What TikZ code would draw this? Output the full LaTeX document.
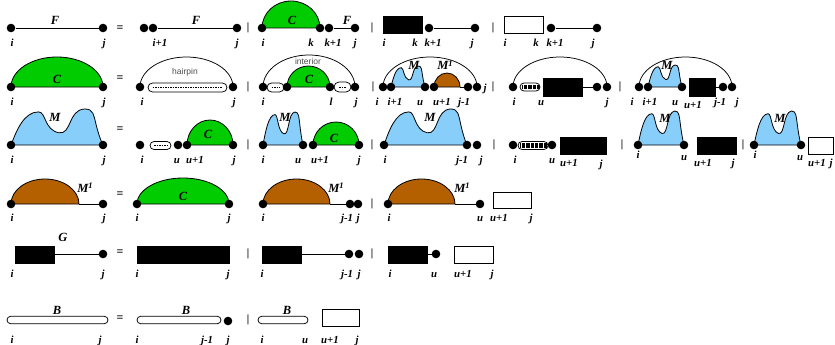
\documentclass[tikz,border=0pt]{standalone}
\usepackage{fontspec}
\setmainfont{Liberation Serif}
\newfontfamily\hsans{Liberation Sans}
\definecolor{cgreen}{RGB}{0,204,0}
\definecolor{cbrown}{RGB}{180,95,0}
\definecolor{cblue}{RGB}{135,206,250}
\tikzset{
 pdot/.style={circle,fill=black,inner sep=0pt,minimum size=8.6pt},
 lbl/.style={font=\fontsize{10.8}{10.8}\selectfont\bfseries\itshape,anchor=base,inner sep=0pt},
 nm/.style={font=\fontsize{12.5}{12.5}\selectfont\bfseries\itshape,anchor=base,inner sep=0pt},
 opsym/.style={font=\fontsize{12}{12}\selectfont\bfseries,inner sep=0pt},
 barsym/.style={font=\fontsize{11}{11}\selectfont\bfseries,inner sep=0pt},
 note/.style={font=\hsans\fontsize{8.5}{8.5}\selectfont,text=black!70,inner sep=0pt},
 outl/.style={draw=black,line width=0.8pt},
 thinl/.style={draw=black,line width=0.75pt},
}
\newcounter{xnc}
\newcommand\xLb[3]{\stepcounter{xnc}\node[lbl] (t\arabic{xnc}) at (#1,-#2) {#3};}
\newcommand\xNm[3]{\stepcounter{xnc}\node[nm] (t\arabic{xnc}) at (#1,-#2) {#3};}
\newcommand\xEq[2]{\stepcounter{xnc}\node[opsym] (t\arabic{xnc}) at (#1,-#2) {=};}
\newcommand\xBar[2]{\stepcounter{xnc}\node[barsym] (t\arabic{xnc}) at (#1,-#2) {|};}
\newcommand\xDot[3]{\node[pdot] (#1) at (#2,-#3) {};}
\newcommand\xSemi[5]{\filldraw[outl,fill=#5] (#1,-#3) arc[start angle=180,end angle=0,x radius={((#2)-(#1))/2},y radius=#4] -- cycle;}
\newcommand\xArc[4]{\draw[thinl] (#1,-#3) arc[start angle=180,end angle=0,x radius={((#2)-(#1))/2},y radius=#4];}
\newcommand\xM[4]{\begin{scope}[shift={(#1,-#3)},xscale={(#2)-(#1)},yscale=#4]
 \filldraw[outl,fill=cblue] (0,0) .. controls (0.06,0.4) and (0.14,0.92) .. (0.3,0.92)
 .. controls (0.38,0.92) and (0.36,0.42) .. (0.52,0.34)
 .. controls (0.66,0.28) and (0.62,0.98) .. (0.8,1)
 .. controls (0.9,1.01) and (0.9,0.8) .. (0.92,0.62)
 .. controls (0.94,0.4) and (0.97,0.15) .. (1,0) -- cycle;
 \end{scope}}
\newcommand\xDP[4]{\draw[thinl,fill=white,rounded corners={(#4)/2-0.01}] (#1,-#3-#4/2) rectangle (#2,-#3+#4/2);
 \draw[line width=0.5pt,dash pattern=on 1.5pt off 1pt] (#1+#4/2,-#3) -- (#2-#4/2,-#3);}
\newcommand\xHP[4]{\begin{scope}\clip[rounded corners={(#4)/2-0.01}] (#1,-#3-#4/2) rectangle (#2,-#3+#4/2);
 \fill[white] (#1,-#3-#4/2) rectangle (#2,-#3+#4/2);
 \foreach \hx in {2.5,3.8,...,40} {\draw[line width=0.4pt] (#1+\hx,-#3-#4/2+1.6) -- (#1+\hx,-#3+#4/2-1.6);}
 \end{scope}
 \draw[thinl,rounded corners={(#4)/2-0.01}] (#1,-#3-#4/2) rectangle (#2,-#3+#4/2);}
\newcommand\xBP[4]{\draw[thinl,fill=white,rounded corners={(#4)/2-0.01}] (#1,-#3-#4/2) rectangle (#2,-#3+#4/2);}
\newcommand\Mone{M\raisebox{3.5pt}{\fontsize{8.5}{8.5}\selectfont 1}}
\begin{document}
\begin{tikzpicture}[x=1pt,y=1pt]
\useasboundingbox (0,0) rectangle (835,-345);
% ---------------- Row 1
\xDot{a1}{11}{28}\xDot{a2}{103}{28}\draw[thinl] (a1)--(a2);
\xNm{55}{25}{F}\xLb{12}{47}{i}\xLb{104}{47}{j}
\xEq{120}{29}
\xDot{a3}{144}{28}\xDot{a4}{153}{28}\xDot{a5}{237}{28}\draw[thinl] (a4)--(a5);
\xNm{196}{25}{F}\xLb{160}{47}{i+1}\xLb{237}{47}{j}
\xBar{248}{28}
\xSemi{262}{320}{28}{27}{cgreen}
\xDot{a6}{262}{28}\xDot{a7}{320}{28}\xDot{a8}{329}{28}\xDot{a9}{355}{28}\draw[thinl] (a8)--(a9);
\xNm{292}{25}{C}\xNm{347}{25}{F}
\xLb{263}{47}{i}\xLb{311}{47}{k}\xLb{333}{47}{k+1}\xLb{355}{47}{j}
\xBar{372}{28}
\draw[thinl,fill=black] (383,-16) rectangle (422,-33);
\xDot{a10}{429}{28}\xDot{a11}{475}{28}\draw[thinl] (a10)--(a11);
\xLb{384}{47}{i}\xLb{415}{47}{k}\xLb{433}{47}{k+1}\xLb{472}{47}{j}
\xBar{493}{28}
\draw[thinl,fill=white] (504,-16) rectangle (543,-33);
\xDot{a12}{551}{28}\xDot{a13}{597}{28}\draw[thinl] (a12)--(a13);
\xLb{505}{47}{i}\xLb{536}{47}{k}\xLb{555}{47}{k+1}\xLb{593}{47}{j}
% ---------------- Row 2
\xSemi{11}{103}{87}{30}{cgreen}
\xDot{b1}{11}{87}\xDot{b2}{103}{87}
\xNm{57}{83}{C}\xLb{12}{105}{i}\xLb{104}{105}{j}
\xEq{120}{79}
\xArc{140}{233}{87}{30}
\xDP{148}{227}{87.5}{9}
\xDot{b3}{140}{87}\xDot{b4}{233}{87}
\stepcounter{xnc}\node[note] (t\arabic{xnc}) at (185,-72) {hairpin};
\xLb{142}{105}{i}\xLb{234}{105}{j}
\xBar{248}{87}
\xArc{263}{355}{87}{32}
\xDP{267}{284}{87.5}{9}
\xSemi{287}{330}{87}{21}{cgreen}
\xDP{334}{351}{87}{10}
\xDot{b5}{263}{87}\xDot{b6}{287}{87}\xDot{b7}{330}{87}\xDot{b8}{355}{87}
\xNm{309}{83}{C}
\stepcounter{xnc}\node[note] (t\arabic{xnc}) at (308,-61) {interior};
\xLb{263}{105}{i}\xLb{331}{105}{l}\xLb{356}{105}{j}
\xBar{373}{87}
\xArc{383}{477}{87}{30}
\xM{391}{425}{87}{21}
\xSemi{434}{460}{87}{14}{cbrown}
\coordinate (b9e) at (460,-87);
\xDot{b9}{383}{87}\xDot{b10}{391}{87}\xDot{b11}{425}{87}\xDot{b12}{434}{87}\xDot{b13}{468}{87}\xDot{b14}{477}{87}
\draw[thinl] (b9e)--(b13);
\xNm{414}{70}{M}\xNm{445}{70}{\Mone}
\xLb{377}{105}{i}\xLb{395}{105}{i+1}\xLb{420}{105}{u}\xLb{442}{105}{u+1}\xLb{464}{105}{j-1}\xLb{485}{91}{j}
\xBar{493}{87}
\xArc{513}{607}{87}{30}
\xHP{520}{540}{87}{8}
\draw[thinl,fill=black] (543,-78) rectangle (582,-96);
\coordinate (b15e) at (582,-87);
\xDot{b15}{513}{87}\xDot{b16}{597}{87}\xDot{b17}{607}{87}
\draw[thinl] (b15e)--(b16);
\xLb{514}{105}{i}\xLb{541}{105}{u}\xLb{607}{105}{j}
\xBar{620}{87}
\xArc{639}{732}{87}{30}
\xM{648}{682}{87}{22}
\draw[thinl,fill=black] (689,-78) rectangle (715,-96);
\coordinate (b18e) at (715,-87);
\xDot{b18}{639}{87}\xDot{b19}{648}{87}\xDot{b20}{682}{87}\xDot{b21}{723}{87}\xDot{b22}{732}{87}
\draw[thinl] (b18e)--(b21);
\xNm{667}{70}{M}
\xLb{632}{105}{i}\xLb{650}{105}{i+1}\xLb{675}{105}{u}\xLb{693}{108}{u+1}\xLb{720}{105}{j-1}\xLb{737}{105}{j}
% ---------------- Row 3
\xM{11}{103}{145}{36}
\xDot{c1}{11}{145}\xDot{c2}{103}{145}
\xNm{55}{121}{M}\xLb{12}{163}{i}\xLb{104}{163}{j}
\xEq{120}{130}
\xDP{150}{171}{145.5}{8}
\xSemi{187}{233}{145}{25}{cgreen}
\xDot{c3}{140}{145}\xDot{c4}{178}{145}\xDot{c5}{187}{145}\xDot{c6}{233}{145}
\xNm{208}{138}{C}
\xLb{142}{163}{i}\xLb{177}{163}{u}\xLb{195}{163}{u+1}\xLb{234}{163}{j}
\xBar{248}{145}
\xM{263}{303}{145}{33}
\xSemi{313}{359}{145}{23}{cgreen}
\xDot{c7}{263}{145}\xDot{c8}{303}{145}\xDot{c9}{313}{145}\xDot{c10}{359}{145}
\xNm{285}{121}{M}\xNm{334}{142}{C}
\xLb{263}{163}{i}\xLb{298}{163}{u}\xLb{320}{163}{u+1}\xLb{359}{163}{j}
\xBar{372}{145}
\xM{384}{467}{145}{36}
\xDot{c11}{384}{145}\xDot{c12}{467}{145}\xDot{c13}{477}{145}
\xNm{430}{121}{M}
\xLb{385}{163}{i}\xLb{462}{163}{j-1}\xLb{481}{163}{j}
\xBar{494}{145}
\xHP{518}{548}{145.5}{8}
\draw[thinl,fill=black] (560,-137) rectangle (606,-154);
\xDot{c14}{513}{145}\xDot{c15}{552}{145}
\xLb{515}{163}{i}\xLb{552}{163}{u}\xLb{569}{166}{u+1}\xLb{601}{167}{j}
\xBar{622}{145}
\xM{638}{684}{145}{34}
\draw[thinl,fill=black] (697,-137) rectangle (736,-154);
\xDot{c16}{638}{145}\xDot{c17}{684}{145}
\xNm{665}{122}{M}
\xLb{638}{158}{i}\xLb{684}{160}{u}\xLb{703}{166}{u+1}\xLb{733}{166}{j}
\xBar{743}{145}
\xM{754}{801}{145}{34}
\draw[thinl,fill=white] (808,-137) rectangle (833,-154);
\xDot{c18}{754}{145}\xDot{c19}{801}{145}
\xNm{780}{122}{M}
\xLb{755}{158}{i}\xLb{800}{160}{u}\xLb{817}{166}{u+1}\xLb{831}{166}{j}
% ---------------- Row 4
\xSemi{11}{79}{204}{25}{cbrown}
\coordinate (d1e) at (79,-204);
\xDot{d1}{11}{204}\xDot{d2}{103}{204}\draw[thinl] (d1e)--(d2);
\xNm{85}{192}{\Mone}\xLb{12}{221}{i}\xLb{104}{221}{j}
\xEq{120}{195}
\xSemi{137}{229}{204}{26}{cgreen}
\xDot{d3}{137}{204}\xDot{d4}{229}{204}
\xNm{183}{200}{C}\xLb{137}{221}{i}\xLb{229}{221}{j}
\xSemi{263}{330}{204}{25}{cbrown}
\coordinate (d5e) at (330,-204);
\xDot{d5}{263}{204}\xDot{d6}{350}{204}\xDot{d7}{358}{204}\draw[thinl] (d5e)--(d6);
\xNm{336}{192}{\Mone}\xLb{263}{221}{i}\xLb{347}{221}{j-1}\xLb{358}{221}{j}
\xBar{372}{204}
\xSemi{388}{455}{204}{25}{cbrown}
\coordinate (d8e) at (455,-204);
\xDot{d8}{388}{204}\xDot{d9}{480}{204}\draw[thinl] (d8e)--(d9);
\draw[thinl,fill=white] (493,-192) rectangle (531,-208);
\xNm{462}{192}{\Mone}\xLb{389}{221}{i}\xLb{480}{221}{u}\xLb{499}{221}{u+1}\xLb{531}{221}{j}
% ---------------- Row 5
\draw[thinl,fill=black] (15,-246) rectangle (54,-263);
\coordinate (e1e) at (54,-254);
\xDot{e1}{103}{254}\draw[thinl] (e1e)--(e1);
\xNm{63}{241}{G}\xLb{12}{277}{i}\xLb{103}{277}{j}
\xEq{120}{253}
\draw[thinl,fill=black] (137,-246) rectangle (229,-263);
\xLb{137}{277}{i}\xLb{228}{277}{j}
\xBar{248}{254}
\draw[thinl,fill=black] (262,-246) rectangle (301,-263);
\coordinate (e2e) at (301,-254);
\xDot{e2}{349}{254}\xDot{e3}{359}{254}\draw[thinl] (e2e)--(e2);
\xLb{262}{277}{i}\xLb{347}{277}{j-1}\xLb{359}{277}{j}
\xBar{372}{254}
\draw[thinl,fill=black] (388,-246) rectangle (427,-263);
\coordinate (e4e) at (427,-254);
\xDot{e4}{436}{254}\draw[thinl] (e4e)--(e4);
\draw[thinl,fill=white] (454,-246) rectangle (493,-263);
\xLb{390}{277}{i}\xLb{434}{277}{u}\xLb{463}{277}{u+1}\xLb{492}{277}{j}
% ---------------- Row 6
\xBP{7}{108}{320}{7.5}
\xNm{57}{314}{B}\xLb{12}{343}{i}\xLb{100}{343}{j}
\xEq{120}{319}
\xBP{137}{221}{320}{7.5}
\xDot{f1}{228}{321}
\xNm{186}{314}{B}\xLb{137}{343}{i}\xLb{207}{343}{j-1}\xLb{228}{343}{j}
\xBar{248}{320}
\xBP{258}{308}{320}{7.5}
\draw[thinl,fill=white] (322,-309) rectangle (359,-326);
\xNm{287}{314}{B}\xLb{262}{343}{i}\xLb{305}{343}{u}\xLb{330}{343}{u+1}\xLb{357}{343}{j}
\end{tikzpicture}
\end{document}
